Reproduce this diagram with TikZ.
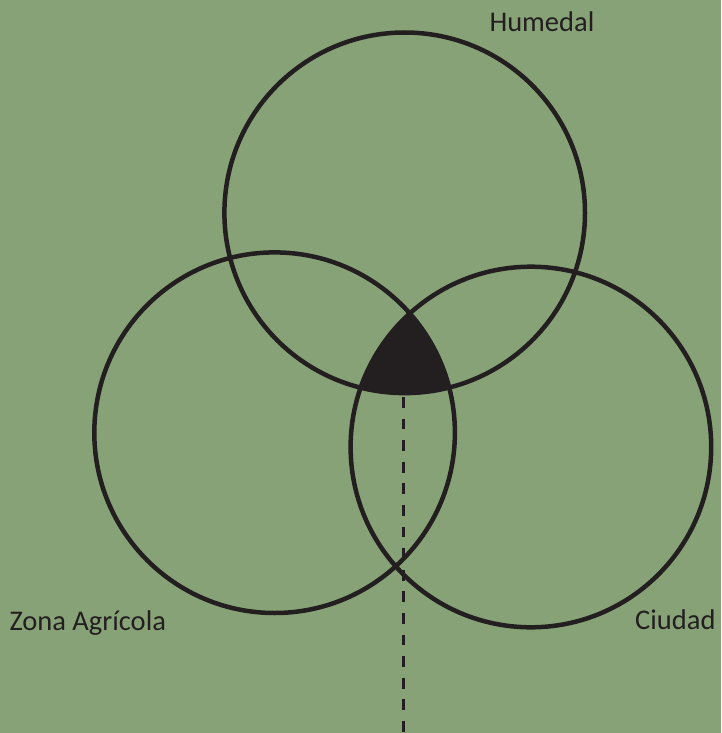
\documentclass[tikz,border=0pt]{standalone}
\usepackage{fontspec}
\setmainfont{Carlito}
\definecolor{bg}{HTML}{87A276}
\definecolor{ink}{HTML}{231F20}
\begin{document}
\begin{tikzpicture}[x=1pt,y=-1pt,
  ring/.style={draw=ink,line width=4.5pt},
  lbl/.style={inner sep=0pt,anchor=base west,text=ink,font=\fontsize{28.5}{34}\selectfont},
  dashline/.style={draw=ink,line width=2.7pt,dash pattern=on 10.7pt off 10.9pt}]
\fill[bg] (0,0) rectangle (721,733);
\useasboundingbox (0,0) rectangle (721,733);
\coordinate (cH) at (404.7,212.8);
\coordinate (cZ) at (274.6,432.7);
\coordinate (cC) at (530.9,447);
\begin{scope}
  \clip (cH) circle[radius=180.3];
  \clip (cZ) circle[radius=180.3];
  \fill[ink] (cC) circle[radius=180.3];
\end{scope}
\node[ring,circle,minimum size=360.6pt,inner sep=0pt,outer sep=0pt,draw=none] (H) at (cH) {};
\node[circle,minimum size=360.6pt,inner sep=0pt,outer sep=0pt] (Z) at (cZ) {};
\node[circle,minimum size=360.6pt,inner sep=0pt,outer sep=0pt] (C) at (cC) {};
\draw[ring] (cH) circle[radius=180.3];
\draw[ring] (cZ) circle[radius=180.3];
\draw[ring] (cC) circle[radius=180.3];
\coordinate (dtop) at (403.7,397);
\coordinate (dbot) at (403.7,733);
\draw[dashline] (dtop) -- (dbot);
\node[lbl] (lH) at (489.3,32) {Humedal};
\node[lbl] (lZ) at (9.3,630) {Zona Agrícola};
\node[lbl] (lC) at (635,629) {Ciudad};
\end{tikzpicture}
\end{document}
